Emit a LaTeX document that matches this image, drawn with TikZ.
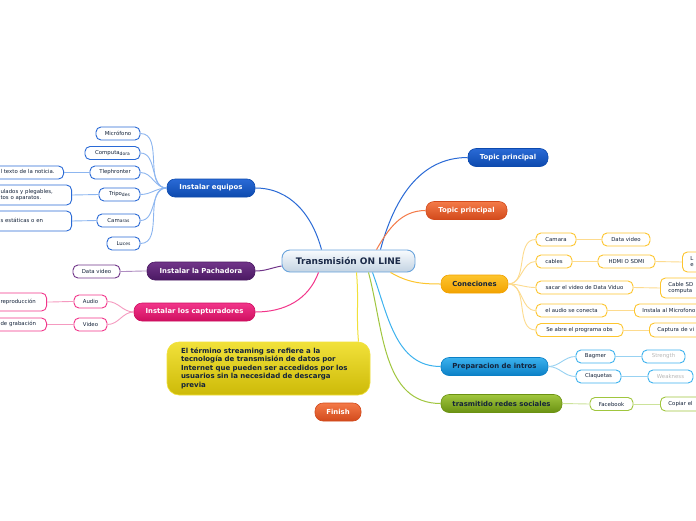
\documentclass[tikz,border=0pt]{standalone}
\usepackage{fontspec}
\setmainfont{DejaVu Sans}
\usetikzlibrary{positioning}

\definecolor{rootline}{HTML}{6AA4DC}
\definecolor{roottop}{HTML}{F8FBFE}
\definecolor{rootbot}{HTML}{C3D3E2}
\definecolor{roottext}{HTML}{1B2A48}
\definecolor{eqblue}{HTML}{2A6AD6}
\definecolor{eqbluedk}{HTML}{0D4AAE}
\definecolor{eqlight}{HTML}{8DB6F0}
\definecolor{pach}{HTML}{713589}
\definecolor{pachdk}{HTML}{4B1963}
\definecolor{pachlight}{HTML}{B08EC2}
\definecolor{capt}{HTML}{F2358A}
\definecolor{captdk}{HTML}{CF0F60}
\definecolor{captlight}{HTML}{F59AC0}
\definecolor{yel}{HTML}{F1E13A}
\definecolor{yeldk}{HTML}{CDBA08}
\definecolor{fin}{HTML}{F47A48}
\definecolor{findk}{HTML}{D24A1C}
\definecolor{con}{HTML}{FDC52E}
\definecolor{condk}{HTML}{F2A200}
\definecolor{conlight}{HTML}{FDDB8E}
\definecolor{prep}{HTML}{3CB2EE}
\definecolor{prepdk}{HTML}{0B80C6}
\definecolor{preplight}{HTML}{98D2F2}
\definecolor{soc}{HTML}{A0C63E}
\definecolor{socdk}{HTML}{6B9212}
\definecolor{soclight}{HTML}{CCE39A}
\definecolor{darktext}{HTML}{14233A}
\definecolor{greytext}{HTML}{B8B8B8}

\newcommand{\tailtxt}[1]{\raisebox{-0.8pt}{\fontsize{4.5}{5}\selectfont #1}}
\newcommand{\lines}[1]{\begin{tabular}{@{}l@{}}#1\end{tabular}}

\begin{document}
\begin{tikzpicture}[
    x=1pt, y=-1pt,
    root/.style={draw=rootline, line width=0.9pt, rounded corners=8pt,
    top color=roottop, bottom color=rootbot, text=roottext,
    font=\fontsize{9}{11}\selectfont\bfseries,
    minimum width=133pt, minimum height=22pt},
    branch/.style={line width=0.6pt, rounded corners=8pt, text=white,
    font=\fontsize{6.9}{8}\selectfont\bfseries,
    minimum height=18pt, inner xsep=3pt},
    eqnode/.style={branch, top color=eqblue, bottom color=eqbluedk, draw=eqbluedk},
    pachnode/.style={branch, top color=pach, bottom color=pachdk, draw=pachdk},
    captnode/.style={branch, top color=capt, bottom color=captdk, draw=captdk},
    finnode/.style={branch, top color=fin, bottom color=findk, draw=findk},
    connode/.style={branch, top color=con, bottom color=condk, draw=condk, text=darktext},
    prepnode/.style={branch, top color=prep, bottom color=prepdk, draw=prepdk, text=darktext},
    socnode/.style={branch, top color=soc, bottom color=socdk, draw=socdk, text=darktext},
    note/.style={draw=yel, line width=0.6pt, rounded corners=12pt,
    top color=yel, bottom color=yeldk, text=darktext, align=left,
    font=\fontsize{7}{8.5}\selectfont\bfseries,
    text width=175pt, inner xsep=14pt, minimum height=53pt},
    sub/.style={draw, fill=white, line width=0.9pt, rounded corners=5pt,
    text=darktext, font=\fontsize{5.4}{6.5}\selectfont,
    minimum height=13pt, inner xsep=3pt, inner ysep=1pt},
    cutl/.style={sub, anchor=east, align=left, inner xsep=9pt},
    cutr/.style={sub, anchor=west, text width=100pt, align=left, inner xsep=8pt},
    wire/.style={line width=1pt},
    twig/.style={line width=0.9pt}
    ]
    \path[use as bounding box, fill=white] (0,0) rectangle (696,520);

    % centre and main topics
    \node[root]      (root)    at (348.5,261)  {Transmisión ON LINE};
    \node[eqnode]    (equipos) at (211,188)    [minimum width=88pt]  {Instalar equipos};
    \node[pachnode]  (pacha)   at (201,271)    [minimum width=108pt] {Instalar la Pachadora};
    \node[captnode]  (captur)  at (194.5,312)  [minimum width=121pt] {Instalar los capturadores};
    \node[note]      (streaming) at (268.5,368.5)
    {\lines{El término streaming se refiere a la\\
     tecnología de transmisión de datos por\\
     Internet que pueden ser accedidos por los\\
     usuarios sin la necesidad de descarga\\
     previa}};
    \node[finnode]   (finish)  at (338,412)    [minimum width=46pt]  {Finish};
    \node[eqnode]    (topica)  at (508,157.5)  [minimum width=80pt]  {Topic principal};
    \node[finnode]   (topicb)  at (466.5,210.5)[minimum width=81pt]  {Topic principal};
    \node[connode]   (conec)   at (474.5,284)  [minimum width=67pt]  {Coneciones};
    \node[prepnode]  (intros)  at (494.5,366.5)[minimum width=107pt] {Preparacion de intros};
    \node[socnode]   (redes)   at (501.5,403.5)[minimum width=121pt] {trasmitido redes sociales};

    % Instalar equipos
    \node[sub, draw=eqblue]  (micro)  at (118,133.5)  [minimum width=44pt] {Micrófono};
    \node[sub, draw=eqblue]  (compu)  at (112.5,153)  [minimum width=55pt] {Computa\tailtxt{dora}};
    \node[sub, draw=eqblue]  (tleph)  at (115,172.5)  [minimum width=50pt] {Tlephronter};
    \node[sub, draw=eqblue]  (tripo)  at (119.5,194.5)[minimum width=41pt] {Tripo\tailtxt{des}};
    \node[sub, draw=eqblue]  (camar)  at (118.5,220.5)[minimum width=43pt] {Cam\tailtxt{aras}};
    \node[sub, draw=eqblue]  (luces)  at (123.5,243.5)[minimum width=33pt] {Lu\tailtxt{ces}};
    \node[cutl, draw=eqblue] (noticia) at (64,172.5)  [text width=54pt]
    {\lines{l texto de la noticia.}};
    \node[cutl, draw=eqblue] (plegab)  at (72,195)    [text width=62pt, minimum height=20pt]
    {\lines{ulados y plegables,\\tos o aparatos.}};
    \node[cutl, draw=eqblue] (estat)   at (72,221)    [text width=62pt, minimum height=20pt]
    {\lines{s estáticas o en\\ }};

    % Instalar la Pachadora / capturadores
    \node[sub, draw=pach]    (datava) at (96.5,271.5) [minimum width=47pt] {Data video};
    \node[sub, draw=capt]    (audio)  at (90.5,301.5) [minimum width=33pt] {Audio};
    \node[sub, draw=capt]    (video)  at (90.5,324.5) [minimum width=33pt] {Video};
    \node[cutl, draw=capt]   (reprod) at (47,302)     [text width=37pt, minimum height=18pt]
    {\lines{reproducción\\ }};
    \node[cutl, draw=capt]   (grabac) at (47,324.5)   [text width=37pt]
    {\lines{de grabación}};

    % Coneciones
    \node[sub, draw=con]  (camara) at (556,239.5)   [minimum width=40pt] {Camara};
    \node[sub, draw=con]  (cables) at (554,261.5)   [minimum width=36pt] {cables};
    \node[sub, draw=con]  (sacar)  at (584.5,287.5) [minimum width=97pt] {sacar el video de Data Viduo};
    \node[sub, draw=con]  (elaud)  at (571.5,310.5) [minimum width=71pt] {el audio se conecta};
    \node[sub, draw=con]  (obs)    at (579.5,330)   [minimum width=87pt] {Se abre el programa obs};
    \node[sub, draw=con]  (datavb) at (626,239.5)   [minimum width=48pt] {Data video};
    \node[sub, draw=con]  (hdmi)   at (626.5,261.5) [minimum width=57pt] {HDMI O SDMI};
    \node[cutr, draw=con] (lbox)   at (682,262)     [minimum height=20pt]
    {\lines{L\\e}};
    \node[cutr, draw=con] (cablsd) at (660,288)     [minimum height=20pt]
    {\lines{Cable SD\\computa}};
    \node[cutr, draw=con] (instal) at (634,310.5)   {Instala al Microfono};
    \node[cutr, draw=con] (captvi) at (649,330)     [minimum height=14pt] {Captura de vi};

    % intros and redes
    \node[sub, draw=prep]  (bagmer) at (595.5,356.5) [minimum width=39pt] {Bagmer};
    \node[sub, draw=prep]  (claq)   at (598.5,376.5) [minimum width=45pt] {Claquetas};
    \node[sub, draw=prep, text=greytext] (streng) at (663.5,356.5) [minimum width=43pt] {Strength};
    \node[sub, draw=prep, text=greytext] (weakn)  at (670.5,376.5) [minimum width=45pt] {Weakness};
    \node[sub, draw=soc]   (faceb)  at (611.5,404)   [minimum width=43pt] {Facebook};
    \node[cutr, draw=soc]  (copiar) at (660,404)     [minimum height=14pt] {Copiar el};

    % connectors from the centre
    \path[wire, draw=eqblue]  ([xshift=-27pt]root.north) edge[out=105, in=0]  (equipos.east);
    \path[wire, draw=pach]    ([yshift=-5pt]root.west)   edge[out=190, in=0]  (pacha.east);
    \path[wire, draw=capt]    ([xshift=-30pt]root.south) edge[out=-110, in=0] (captur.east);
    \path[wire, draw=yel]     ([xshift=8pt]root.south)   edge[out=-85, in=95] ([xshift=90pt]streaming.north);
    \path[wire, draw=eqblue]  ([xshift=32pt]root.north)  edge[out=75, in=180] (topica.west);
    \path[wire, draw=fin]     ([xshift=28pt]root.north)  edge[out=60, in=180] (topicb.west);
    \path[wire, draw=con]     ([xshift=42pt]root.south)  edge[out=-30, in=180] (conec.west);
    \path[wire, draw=prep]    ([xshift=24pt]root.south)  edge[out=-70, in=180] (intros.west);
    \path[wire, draw=soc]     ([xshift=20pt]root.south)  edge[out=-75, in=180] (redes.west);

    % connectors to the leaves
    \path[twig, draw=eqlight]
    (equipos.west) edge[out=180, in=0] (micro.east)
    (equipos.west) edge[out=180, in=0] (compu.east)
    (equipos.west) edge[out=180, in=0] (tleph.east)
    (equipos.west) edge[out=180, in=0] (tripo.east)
    (equipos.west) edge[out=180, in=0] (camar.east)
    (equipos.west) edge[out=180, in=0] (luces.east)
    (tleph.west)   edge (noticia.east)
    (tripo.west)   edge (plegab.east)
    (camar.west)   edge (estat.east)
    ;
    \path[twig, draw=pachlight]
    (pacha.west) edge[out=180, in=0] (datava.east);
    \path[twig, draw=captlight]
    (captur.west) edge[out=180, in=0] (audio.east)
    (captur.west) edge[out=180, in=0] (video.east)
    (audio.west)  edge[out=180, in=0] (reprod.east)
    (video.west)  edge (grabac.east)
    ;
    \path[twig, draw=conlight]
    (conec.east)  edge[out=0, in=180] (camara.west)
    (conec.east)  edge[out=0, in=180] (cables.west)
    (conec.east)  edge[out=0, in=180] (sacar.west)
    (conec.east)  edge[out=0, in=180] (elaud.west)
    (conec.east)  edge[out=0, in=180] (obs.west)
    (camara.east) edge (datavb.west)
    (cables.east) edge (hdmi.west)
    (hdmi.east)   edge (lbox.west)
    (sacar.east)  edge (cablsd.west)
    (elaud.east)  edge (instal.west)
    (obs.east)    edge (captvi.west)
    ;
    \path[twig, draw=preplight]
    (intros.east) edge[out=0, in=180] (bagmer.west)
    (intros.east) edge[out=0, in=180] (claq.west)
    (bagmer.east) edge (streng.west)
    (claq.east)   edge (weakn.west)
    ;
    \path[twig, draw=soclight]
    (redes.east)  edge (faceb.west)
    (faceb.east)  edge (copiar.west)
    ;
\end{tikzpicture}
\end{document}
